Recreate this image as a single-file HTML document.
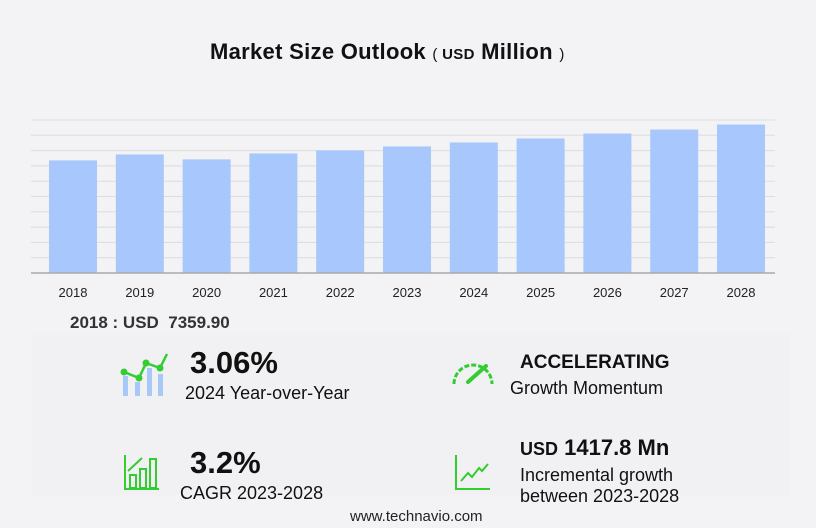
<!DOCTYPE html>
<html><head><meta charset="utf-8"><style>
body{margin:0;width:816px;height:528px;background:#f3f3f6;font-family:"Liberation Sans",sans-serif;position:relative;overflow:hidden}
.a{position:absolute;white-space:nowrap;color:#111}
</style></head><body>
<div class="a" style="left:210px;top:39px;font-size:22px;font-weight:bold;letter-spacing:0.3px">Market Size Outlook <span style="font-size:15px;font-weight:normal">( </span><span style="font-size:15px">USD</span> Million <span style="font-size:15px;font-weight:normal">)</span></div>
<svg id="c" width="816" height="310" style="position:absolute;left:0;top:0"></svg>
<div class="a" style="left:70px;top:313px;font-size:17px;font-weight:bold;color:#333">2018 : USD &nbsp;7359.90</div>
<div style="position:absolute;left:32px;top:333px;width:758px;height:162px;background:#f1f1f3"></div>
<svg style="position:absolute;left:118px;top:350px" width="55" height="48"><rect x="5" y="26" width="5" height="20" fill="#a8c8f8"/><rect x="17" y="32" width="5" height="14" fill="#a8c8f8"/><rect x="29" y="18" width="5" height="28" fill="#a8c8f8"/><rect x="40" y="24" width="5" height="22" fill="#a8c8f8"/><polyline points="6,22 21,28 28,13 42,18 49,4" fill="none" stroke="#3c3" stroke-width="2.5"/><circle cx="6" cy="22" r="3.5" fill="#3c3"/><circle cx="21" cy="28" r="3.5" fill="#3c3"/><circle cx="28" cy="13" r="3.5" fill="#3c3"/><circle cx="42" cy="18" r="3.5" fill="#3c3"/></svg>
<div class="a" style="left:190px;top:345px;font-size:31px;font-weight:bold">3.06%</div>
<div class="a" style="left:185px;top:383px;font-size:18px">2024 Year-over-Year</div>
<svg style="position:absolute;left:450px;top:358px" width="46" height="28"><path d="M4,26 A19,19 0 0 1 42,26" fill="none" stroke="#3c3" stroke-width="3" stroke-dasharray="5,2"/><line x1="18" y1="24" x2="36" y2="8" stroke="#3c3" stroke-width="4" stroke-linecap="round"/></svg>
<div class="a" style="left:520px;top:352px;font-size:19px;font-weight:bold">ACCELERATING</div>
<div class="a" style="left:510px;top:378px;font-size:18px">Growth Momentum</div>
<svg style="position:absolute;left:124px;top:455px" width="36" height="36"><rect x="6" y="20" width="6" height="13" fill="none" stroke="#3c3" stroke-width="2"/><rect x="16" y="14" width="6" height="19" fill="none" stroke="#3c3" stroke-width="2"/><rect x="26" y="4" width="6" height="29" fill="none" stroke="#3c3" stroke-width="2"/><polyline points="1,0 1,34 35,34" fill="none" stroke="#3c3" stroke-width="2"/><line x1="4" y1="16" x2="18" y2="3" stroke="#3c3" stroke-width="2"/></svg>
<div class="a" style="left:190px;top:445px;font-size:31px;font-weight:bold">3.2%</div>
<div class="a" style="left:180px;top:483px;font-size:18px">CAGR 2023-2028</div>
<svg style="position:absolute;left:455px;top:455px" width="36" height="36"><polyline points="1,0 1,34 35,34" fill="none" stroke="#3c3" stroke-width="2"/><polyline points="6,26 13,18 17,22 24,13 27,16 33,9" fill="none" stroke="#3c3" stroke-width="2"/></svg>
<div class="a" style="left:520px;top:435px;font-size:22px;font-weight:bold"><span style="font-size:18px">USD</span> 1417.8 Mn</div>
<div class="a" style="left:520px;top:465px;font-size:18px;line-height:21px">Incremental growth<br>between 2023-2028</div>
<div class="a" style="left:350px;top:508px;font-size:15px;color:#222">www.technavio.com</div>
<script>
const categories=["2018","2019","2020","2021","2022","2023","2024","2025","2026","2027","2028"];
const values=[7359.9,7750,7425,7816,8011,8272,8532,8793,9118,9379,9705];
const gridTicks=[0,1000,2000,3000,4000,5000,6000,7000,8000,9000,10000];
const svg=document.getElementById('c');const NS="http://www.w3.org/2000/svg";
const ax0=31,ax1=775,x0=39.6,yB=273,yT=120,maxV=10000;
const band=66.8,bw=48;
const y=v=>yB-(v/maxV)*(yB-yT);
const xc=i=>x0+band*(i+0.5);
function mk(t,a){const e=document.createElementNS(NS,t);for(const k in a)e.setAttribute(k,a[k]);svg.appendChild(e);return e;}
gridTicks.forEach(t=>{if(t===0)return;const l=mk('line',{x1:ax0,x2:ax1,y1:y(t),y2:y(t),stroke:'#dcdce0','stroke-width':1});

});
values.forEach((v,i)=>{const r=mk('rect',{x:xc(i)-bw/2,y:y(v),width:bw,height:yB-y(v),fill:'#a7c7fd'});


const t=mk('text',{x:xc(i),y:297,'text-anchor':'middle','font-size':13,fill:'#222','font-family':'Liberation Sans'});t.textContent=categories[i];

});
const ax=mk('line',{x1:ax0,x2:ax1,y1:yB,y2:yB,stroke:'#aaa','stroke-width':1.5});


</script>
</body></html>
